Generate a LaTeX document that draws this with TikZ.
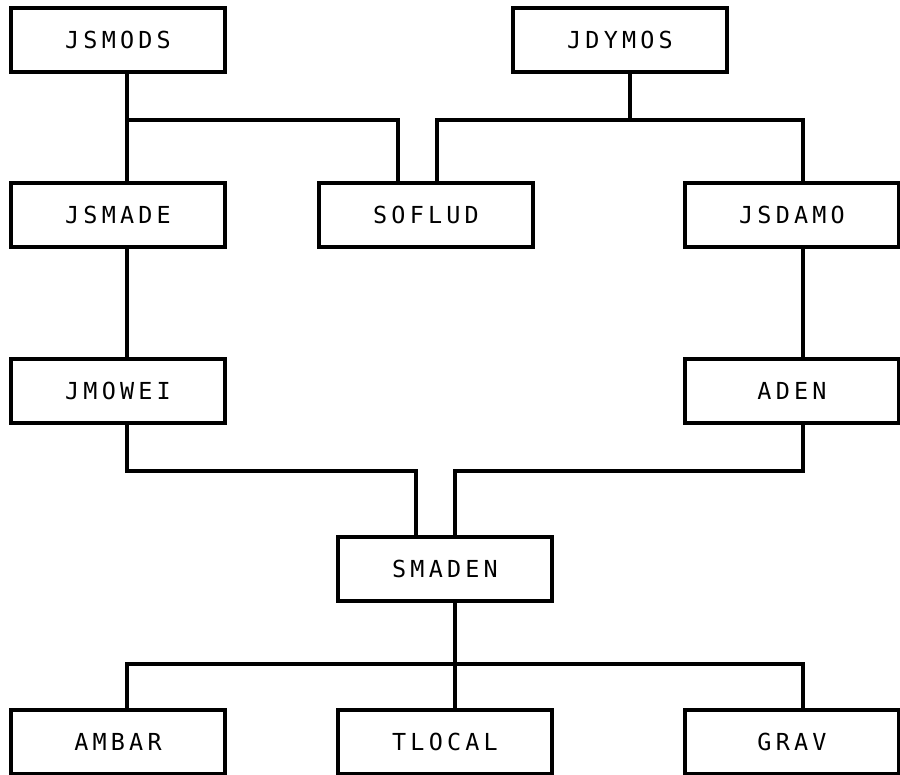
\documentclass[tikz,border=0pt]{standalone}
\usepackage{fontspec}
\usepackage{tikz}
\usetikzlibrary{positioning}
\newfontfamily\plotfont{DejaVu Sans Mono}[LetterSpace=18]

\tikzset{
  modbox/.style={draw, line width=2.8pt, minimum width=6.42cm, minimum height=1.92cm,
    inner sep=0pt, font=\plotfont\fontsize{20}{22}\selectfont},
  wire/.style={line width=2.8pt}
}

\begin{document}
\begin{tikzpicture}[x=0.03cm, y=-0.03cm]
      \useasboundingbox (0,0) rectangle (900,774);
      % modules
      \node[modbox] (jsmods) at (118,40) {JSMODS};
      \node[modbox] (jdymos) at (620,40) {JDYMOS};
      \node[modbox] (jsmade) at (118,215) {JSMADE};
      \node[modbox] (soflud) at (426,215) {SOFLUD};
      \node[modbox] (jsdamo) at (792,215) {JSDAMO};
      \node[modbox] (jmowei) at (118,391) {JMOWEI};
      \node[modbox] (aden)   at (792,391) {ADEN};
      \node[modbox] (smaden) at (445,569) {SMADEN};
      \node[modbox] (ambar)  at (118,742) {AMBAR};
      \node[modbox] (tlocal) at (445,742) {TLOCAL};
      \node[modbox] (grav)   at (792,742) {GRAV};
      % bus points
      \coordinate (ja) at (127,120);
      \coordinate (sa) at (398,120);
      \coordinate (sb) at (437,120);
      \coordinate (jb) at (630,120);
      \coordinate (rc) at (803,120);
      \coordinate (ma) at (416,471);
      \coordinate (mb) at (455,471);
      \coordinate (lb) at (455,664);
      % connections
      \draw[wire] (jsmods.south -| ja) -- (jsmade.north -| ja);
      \draw[wire] (ja) -| (soflud.north -| sa);
      \draw[wire] (jdymos.south -| jb) -- (jb);
      \draw[wire] (soflud.north -| sb) |- (rc) -- (jsdamo.north -| rc);
      \draw[wire] (jsdamo.south -| rc) -- (aden.north -| rc);
      \draw[wire] (jsmade.south -| ja) -- (jmowei.north -| ja);
      \draw[wire] (jmowei.south -| ja) |- (ma) -- (smaden.north -| ma);
      \draw[wire] (aden.south -| rc) |- (mb) -- (smaden.north -| mb);
      \draw[wire] (smaden.south -| mb) -- (tlocal.north -| mb);
      \draw[wire] (ambar.north -| ja) |- (lb) -| (grav.north -| rc);
    \end{tikzpicture}
\end{document}
